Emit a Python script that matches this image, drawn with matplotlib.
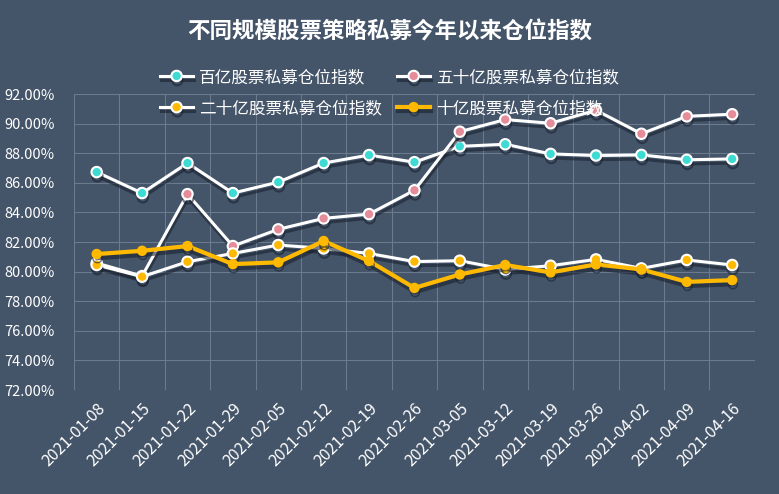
import matplotlib.pyplot as plt
import matplotlib.patheffects as pe
from matplotlib.ticker import FuncFormatter

plt.rcParams['font.family'] = ['Noto Sans CJK SC', 'DejaVu Sans']

# 数据
dates = ['2021-01-08', '2021-01-15', '2021-01-22', '2021-01-29', '2021-02-05',
         '2021-02-12', '2021-02-19', '2021-02-26', '2021-03-05', '2021-03-12',
         '2021-03-19', '2021-03-26', '2021-04-02', '2021-04-09', '2021-04-16']
bai_yi = [86.73, 85.31, 87.34, 85.31, 86.05, 87.34, 87.88, 87.40, 88.47, 88.61,
          87.96, 87.85, 87.89, 87.56, 87.62]
wushi_yi = [80.58, 79.70, 85.24, 81.73, 82.86, 83.60, 83.89, 85.50, 89.46, 90.28,
            90.03, 90.91, 89.32, 90.50, 90.64]
ershi_yi = [80.45, 79.66, 80.67, 81.23, 81.80, 81.57, 81.23, 80.68, 80.74, 80.15,
            80.40, 80.83, 80.22, 80.79, 80.45]
shi_yi = [81.19, 81.41, 81.73, 80.51, 80.63, 82.07, 80.72, 78.90, 79.81, 80.45,
          79.95, 80.49, 80.15, 79.31, 79.43]

bg = '#445469'
grid_c = '#6b7a8d'

fig = plt.figure(figsize=(7.79, 4.94), dpi=100, facecolor=bg)
ax = fig.add_axes([0.095, 0.2105, 0.874, 0.599])
ax.set_facecolor(bg)

x = list(range(len(dates)))
shadow = [pe.SimpleLineShadow(offset=(0.5, -3), shadow_color='#1a2230', alpha=0.6),
          pe.Normal()]

h1, = ax.plot(x, bai_yi, color='white', lw=2.2, marker='o', ms=7.5,
              mfc='#3ddbd3', mec='white', mew=1.5, path_effects=shadow,
              label='百亿股票私募仓位指数', zorder=3)
h2, = ax.plot(x, wushi_yi, color='white', lw=2.2, marker='o', ms=7.5,
              mfc='#e58c9a', mec='white', mew=1.5, path_effects=shadow,
              label='五十亿股票私募仓位指数', zorder=3)
h3, = ax.plot(x, ershi_yi, color='white', lw=2.2, marker='o', ms=7.5,
              mfc='#ffb900', mec='white', mew=1.5, path_effects=shadow,
              label='二十亿股票私募仓位指数', zorder=3)
h4, = ax.plot(x, shi_yi, color='#ffb900', lw=3, marker='o', ms=6.5,
              mfc='#ffb900', mec='#ffb900', path_effects=shadow,
              label='十亿股票私募仓位指数', zorder=4)

ax.set_xlim(-0.5, len(dates) - 0.5)
ax.set_ylim(72, 92)
ax.set_yticks(range(72, 93, 2))
ax.yaxis.set_major_formatter(FuncFormatter(lambda v, p: f'{v:.2f}%'))
ax.set_xticks([i - 0.5 for i in range(len(dates) + 1)], minor=True)
ax.set_xticks(x)
ax.set_xticklabels(dates, rotation=45, ha='right', rotation_mode='anchor')

ax.grid(True, axis='y', color=grid_c, lw=0.8)
ax.grid(True, axis='x', which='minor', color=grid_c, lw=0.8)
ax.tick_params(axis='both', which='both', length=0, colors='white')
ax.tick_params(axis='x', labelsize=11.5, pad=7)
ax.tick_params(axis='y', labelsize=10.5, pad=14)
for s in ax.spines.values():
    s.set_visible(False)

fig.text(0.5, 0.935, '不同规模股票策略私募今年以来仓位指数', color='white',
         fontsize=16.2, fontweight='bold', ha='center', va='center')

leg = fig.legend(handles=[h1, h3, h2, h4], ncol=2, loc='center',
                 bbox_to_anchor=(0.5, 0.812), frameon=False, fontsize=12,
                 labelcolor='white', handlelength=2.0, columnspacing=0.9,
                 handletextpad=0.35, labelspacing=0.85)

fig.savefig('out.png', dpi=100, facecolor=bg)
